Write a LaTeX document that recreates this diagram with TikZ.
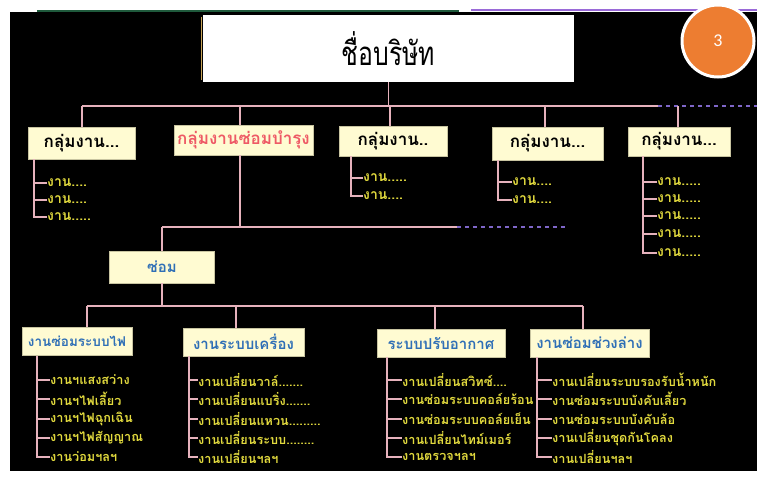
\documentclass[tikz,border=0pt]{standalone}
\usepackage{fontspec}
\newfontfamily\thai[Script=Thai]{Loma}
\newfontfamily\badgefont{Carlito}
\definecolor{cream}{HTML}{FFFBD2}
\definecolor{boxedge}{HTML}{C8C4A0}
\definecolor{conncol}{HTML}{E6B2BC}
\definecolor{itemyellow}{HTML}{E2DA3E}
\definecolor{dashpurple}{HTML}{7E66C8}
\definecolor{redtext}{HTML}{EE5A66}
\definecolor{bluetext}{HTML}{2F6FB6}
\definecolor{badgeorange}{HTML}{ED7D31}
\definecolor{topgreen}{HTML}{1F5A3C}
\definecolor{toppurple}{HTML}{9A6AD8}
\definecolor{goldline}{HTML}{C8A458}
\tikzset{
  conn/.style={draw=conncol, line width=1.8pt},
  dashline/.style={draw=dashpurple, line width=1.6pt, dash pattern=on 4pt off 4pt},
  grpbox/.style={draw=boxedge, fill=cream, line width=0.6pt, inner sep=0pt,
    font=\thai\bfseries\fontsize{17}{19}\selectfont, text=black},
  subbox/.style={draw=boxedge, fill=cream, line width=0.6pt, inner sep=0pt,
    font=\thai\bfseries\fontsize{15}{17}\selectfont, text=bluetext},
  grpitem/.style={anchor=west, inner sep=0pt, text=itemyellow,
    font=\thai\bfseries\fontsize{14}{16}\selectfont},
  listitem/.style={anchor=west, inner sep=0pt, text=itemyellow,
    font=\thai\bfseries\fontsize{12.7}{14}\selectfont}
}
\begin{document}
\begin{tikzpicture}[x=1pt,y=-1pt]
\useasboundingbox (0,0) rectangle (757,483);
\fill[white] (0,0) rectangle (757,483);
\fill[black] (10,12) rectangle (757,471);
\draw[topgreen, line width=1.2pt] (37,11) -- (459,11);
\draw[toppurple, line width=1.2pt] (471,10) -- (757,10);

% title
\node[fill=white, minimum width=371pt, minimum height=67pt, inner sep=0pt]
  (title) at (388.5,48.5) {\scalebox{0.75}[1]{\thai\fontsize{33}{36}\selectfont ชื่อบริษัท}};
\draw[goldline, line width=1pt] ([xshift=-1pt,yshift=-2pt]title.north west) -- ([xshift=-1pt,yshift=2pt]title.south west);

% badge
\node[circle, fill=badgeorange, draw=white, line width=3pt, minimum size=72pt,
  text=white, font=\badgefont\fontsize{18}{20}\selectfont] (badge) at (718,41) {3};

% bus
\coordinate (bus1) at (82,106);
\coordinate (bus2) at (240,106);
\coordinate (bus3) at (390,106);
\coordinate (bus4) at (545,106);
\coordinate (bus5) at (678,106);
\coordinate (busend) at (658,106);
\coordinate (dashend) at (757,106);

% group boxes
\node[grpbox, minimum width=107pt, minimum height=32pt] (g1) at (81.5,143) {กลุ่มงาน...};
\node[grpbox, minimum width=139pt, minimum height=30pt, text=redtext] (g2) at (243.5,140) {กลุ่มงานซ่อมบำรุง};
\node[grpbox, minimum width=108pt, minimum height=30pt] (g3) at (393,141) {กลุ่มงาน..};
\node[grpbox, minimum width=111pt, minimum height=33pt] (g4) at (547.5,143.5) {กลุ่มงาน...};
\node[grpbox, minimum width=102pt, minimum height=29pt] (g5) at (679,141.5) {กลุ่มงาน...};

\draw[conn] (title.south) -- (title.south |- bus1);
\draw[conn] (bus1) -- (busend);
\draw[dashline] (busend) -- (dashend);
\draw[conn] (bus1) -- (g1.north -| bus1);
\draw[conn] (bus2) -- (g2.north -| bus2);
\draw[conn] (bus3) -- (g3.north -| bus3);
\draw[conn] (bus4) -- (g4.north -| bus4);
\draw[conn] (bus5) -- (g5.north -| bus5);

% group 1 list
\coordinate (v1) at (34,159);
\node[grpitem] (a1) at (47,183) {งาน....};
\node[grpitem] (a2) at (47,200) {งาน....};
\node[grpitem] (a3) at (47,217) {งาน.....};
\draw[conn] (v1) -- (v1 |- a3.west) -- (a3.west);
\draw[conn] (v1 |- a1.west) -- (a1.west);
\draw[conn] (v1 |- a2.west) -- (a2.west);

% group 3 list
\coordinate (v3) at (351,156);
\node[grpitem] (c1) at (363,178) {งาน.....};
\node[grpitem] (c2) at (363,196) {งาน....};
\draw[conn] (v3) -- (v3 |- c2.west) -- (c2.west);
\draw[conn] (v3 |- c1.west) -- (c1.west);

% group 4 list
\coordinate (v4) at (498,160);
\node[grpitem] (d1) at (512,182) {งาน....};
\node[grpitem] (d2) at (512,200) {งาน....};
\draw[conn] (v4) -- (v4 |- d2.west) -- (d2.west);
\draw[conn] (v4 |- d1.west) -- (d1.west);

% group 5 list
\coordinate (v5) at (643,156);
\node[grpitem] (e1) at (657,182) {งาน.....};
\node[grpitem] (e2) at (657,199) {งาน.....};
\node[grpitem] (e3) at (657,216) {งาน.....};
\node[grpitem] (e4) at (657,234) {งาน.....};
\node[grpitem] (e5) at (657,253) {งาน.....};
\draw[conn] (v5) -- (v5 |- e5.west) -- (e5.west);
\foreach \n in {e1,e2,e3,e4} \draw[conn] (v5 |- \n.west) -- (\n.west);

% repair branch
\coordinate (r0) at (240,227);
\coordinate (rl) at (162,227);
\coordinate (rr) at (457,227);
\coordinate (rd) at (568,227);
\draw[conn] (g2.south -| r0) -- (r0);
\draw[conn] (rl) -- (rr);
\draw[dashline] (rr) -- (rd);
\node[subbox, minimum width=105pt, minimum height=32pt] (rep) at (162,267) {ซ่อม};
\draw[conn] (rl) -- (rep.north);

% bottom bus
\coordinate (bb0) at (162,306);
\coordinate (bb1) at (87,306);
\coordinate (bb2) at (236,306);
\coordinate (bb3) at (435,306);
\coordinate (bb4) at (583,306);
\draw[conn] (rep.south) -- (bb0);
\draw[conn] (bb1) -- (bb4);

\node[subbox, minimum width=110pt, minimum height=28pt, font=\thai\bfseries\fontsize{13.5}{15}\selectfont] (s1) at (77,341.5) {งานซ่อมระบบไฟ};
\node[subbox, minimum width=121pt, minimum height=28pt] (s2) at (243.5,342) {งานระบบเครื่อง};
\node[subbox, minimum width=128pt, minimum height=28pt] (s3) at (441,343) {ระบบปรับอากาศ};
\node[subbox, minimum width=119pt, minimum height=28pt] (s4) at (589.5,343) {งานซ่อมช่วงล่าง};
\draw[conn] (bb1) -- (s1.north -| bb1);
\draw[conn] (bb2) -- (s2.north -| bb2);
\draw[conn] (bb3) -- (s3.north -| bb3);
\draw[conn] (bb4) -- (s4.north -| bb4);

% bottom list 1
\coordinate (w1) at (37,356);
\node[listitem] (p1) at (50,380) {งานฯแสงสว่าง};
\node[listitem] (p2) at (50,399) {งานฯไฟเลี้ยว};
\node[listitem] (p3) at (50,419) {งานฯไฟฉุกเฉิน};
\node[listitem] (p4) at (50,438) {งานฯไฟสัญญาณ};
\node[listitem] (p5) at (50,457) {งานว่อมฯลฯ};
\draw[conn] (w1) -- (w1 |- p5.west) -- (p5.west);
\foreach \n in {p1,p2,p3,p4} \draw[conn] (w1 |- \n.west) -- (\n.west);

% bottom list 2
\coordinate (w2) at (189,356);
\node[listitem] (q1) at (198,380) {งานเปลี่ยนวาล์.......};
\node[listitem] (q2) at (198,399) {งานเปลี่ยนแบริ่ง.......};
\node[listitem] (q3) at (198,419) {งานเปลี่ยนแหวน.........};
\node[listitem] (q4) at (198,438) {งานเปลี่ยนระบบ........};
\node[listitem] (q5) at (198,457) {งานเปลี่ยนฯลฯ};
\draw[conn] (w2) -- (w2 |- q5.west) -- (q5.west);
\foreach \n in {q1,q2,q3,q4} \draw[conn] (w2 |- \n.west) -- (\n.west);

% bottom list 3
\coordinate (w3) at (387,357);
\node[listitem] (u1) at (402,380) {งานเปลี่ยนสวิทซ์....};
\node[listitem] (u2) at (402,399) {งานซ่อมระบบคอล์ยร้อน};
\node[listitem] (u3) at (402,419) {งานซ่อมระบบคอล์ยเย็น};
\node[listitem] (u4) at (402,438) {งานเปลี่ยนไทม์เมอร์};
\node[listitem] (u5) at (402,457) {งานตรวจฯลฯ};
\draw[conn] (w3) -- (w3 |- u5.west) -- (u5.west);
\foreach \n in {u1,u2,u3,u4} \draw[conn] (w3 |- \n.west) -- (\n.west);

% bottom list 4
\coordinate (w4) at (537,357);
\node[listitem] (z1) at (552,380) {งานเปลี่ยนระบบรองรับน้ำหนัก};
\node[listitem] (z2) at (552,399) {งานซ่อมระบบบังคับเลี้ยว};
\node[listitem] (z3) at (552,419) {งานซ่อมระบบบังคับล้อ};
\node[listitem] (z4) at (552,438) {งานเปลี่ยนชุดกันโคลง};
\node[listitem] (z5) at (552,457) {งานเปลี่ยนฯลฯ};
\draw[conn] (w4) -- (w4 |- z5.west) -- (z5.west);
\foreach \n in {z1,z2,z3,z4} \draw[conn] (w4 |- \n.west) -- (\n.west);
\end{tikzpicture}
\end{document}
